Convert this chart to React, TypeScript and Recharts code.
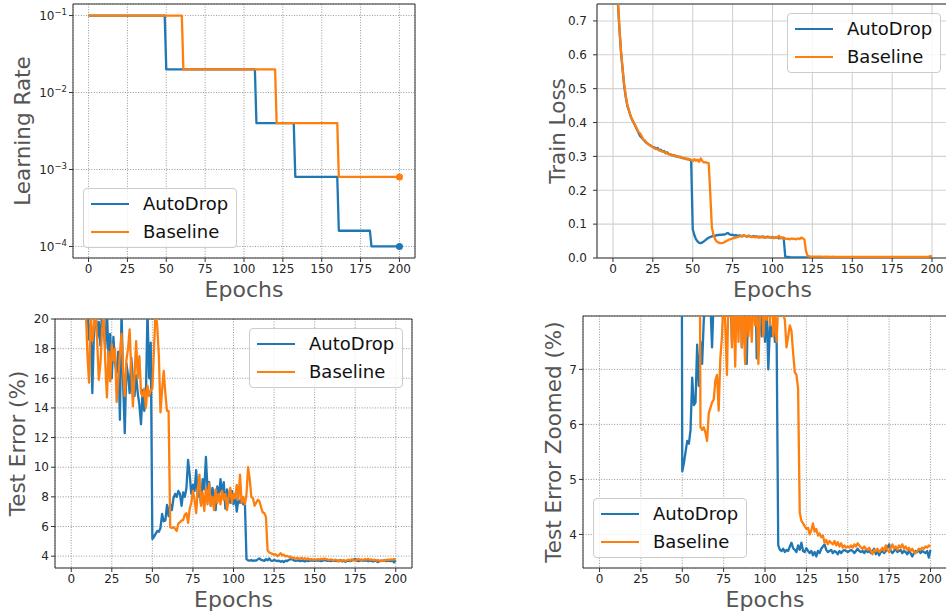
import React from "react";
import { LineChart, Line, XAxis, YAxis, CartesianGrid, Legend, ReferenceArea } from "recharts";

const BLUE = "#1f77b4";
const ORANGE = "#ff7f0e";
const FONT = "'DejaVu Sans', Verdana, sans-serif";
const TICK_COLOR = "#262626";
const TITLE_COLOR = "#555555";
const FRAME = "#333333";

const epochTicks = [0, 25, 50, 75, 100, 125, 150, 175, 200];
const lrTicks = [0.0001, 0.001, 0.01, 0.1];
const lossTicks = [0, 0.1, 0.2, 0.3, 0.4, 0.5, 0.6, 0.7];
const errTicks = [4, 6, 8, 10, 12, 14, 16, 18, 20];
const zoomTicks = [4, 5, 6, 7];

// learning rate at the epochs where the schedule steps, [epoch, lr]
const lrAutoDrop: [number, number][] = [
  [0, 0.1], [49, 0.1], [50, 0.02], [107, 0.02], [108, 0.004], [132, 0.004],
  [133, 0.0008], [160, 0.0008], [161, 0.00016], [181, 0.00016], [182, 0.0001], [200, 0.0001],
];
const lrBaseline: [number, number][] = [
  [0, 0.1], [60, 0.1], [61, 0.02], [120, 0.02], [121, 0.004], [160, 0.004], [161, 0.0008], [200, 0.0008],
];

// train loss, one value per epoch 0..200
const trainLossAutoDrop = [
  2.0, 1.3, 0.95, 0.76, 0.68, 0.61, 0.56, 0.51, 0.475, 0.45,
  0.435, 0.42, 0.408, 0.4, 0.39, 0.38, 0.37, 0.36, 0.355, 0.35,
  0.345, 0.34, 0.337, 0.334, 0.33, 0.328, 0.327, 0.322, 0.325, 0.318,
  0.32, 0.314, 0.316, 0.31, 0.312, 0.307, 0.306, 0.303, 0.304, 0.3,
  0.301, 0.298, 0.299, 0.296, 0.295, 0.294, 0.292, 0.293, 0.29, 0.289,
  0.085, 0.068, 0.056, 0.049, 0.045, 0.044, 0.046, 0.049, 0.053, 0.057,
  0.06, 0.062, 0.064, 0.066, 0.065, 0.068, 0.067, 0.069, 0.068, 0.07,
  0.069, 0.072, 0.074, 0.07, 0.068, 0.069, 0.066, 0.068, 0.065, 0.067,
  0.066, 0.064, 0.067, 0.065, 0.063, 0.066, 0.064, 0.062, 0.065, 0.063,
  0.064, 0.061, 0.063, 0.062, 0.064, 0.06, 0.062, 0.063, 0.061, 0.06,
  0.062, 0.059, 0.061, 0.06, 0.058, 0.061, 0.059, 0.06, 0.004, 0.003,
  0.003, 0.002, 0.002, 0.002, 0.002, 0.002, 0.002, 0.002, 0.002, 0.002,
  0.002, 0.002, 0.002, 0.002, 0.002, 0.002, 0.002, 0.002, 0.002, 0.002,
  0.002, 0.002, 0.002, 0.002, 0.002, 0.002, 0.002, 0.002, 0.002, 0.002,
  0.002, 0.002, 0.002, 0.002, 0.002, 0.002, 0.002, 0.002, 0.002, 0.002,
  0.002, 0.002, 0.002, 0.002, 0.002, 0.002, 0.002, 0.002, 0.002, 0.002,
  0.002, 0.002, 0.002, 0.002, 0.002, 0.002, 0.002, 0.002, 0.002, 0.002,
  0.002, 0.002, 0.002, 0.002, 0.002, 0.002, 0.002, 0.002, 0.002, 0.002,
  0.002, 0.002, 0.002, 0.002, 0.002, 0.002, 0.002, 0.002, 0.002, 0.002,
  0.002, 0.002, 0.002, 0.002, 0.002, 0.002, 0.002, 0.002, 0.002, 0.002,
  0.002,
];
const trainLossBaseline = [
  2.0, 1.32, 0.96, 0.77, 0.685, 0.615, 0.56, 0.515, 0.48, 0.452,
  0.437, 0.42, 0.41, 0.398, 0.392, 0.381, 0.372, 0.368, 0.36, 0.35,
  0.347, 0.342, 0.336, 0.333, 0.331, 0.327, 0.324, 0.323, 0.32, 0.319,
  0.316, 0.315, 0.313, 0.309, 0.31, 0.306, 0.307, 0.304, 0.302, 0.303,
  0.3, 0.299, 0.297, 0.298, 0.295, 0.293, 0.294, 0.291, 0.292, 0.29,
  0.286, 0.292, 0.287, 0.29, 0.284, 0.294, 0.286, 0.282, 0.283, 0.281,
  0.28, 0.19, 0.09, 0.068, 0.056, 0.049, 0.046, 0.044, 0.044, 0.045,
  0.047, 0.05, 0.052, 0.055, 0.056, 0.058, 0.059, 0.06, 0.062, 0.063,
  0.065, 0.064, 0.066, 0.065, 0.063, 0.065, 0.064, 0.062, 0.063, 0.061,
  0.062, 0.063, 0.06, 0.062, 0.061, 0.063, 0.06, 0.061, 0.062, 0.06,
  0.061, 0.059, 0.062, 0.06, 0.066, 0.058, 0.06, 0.057, 0.058, 0.056,
  0.057, 0.055, 0.058, 0.056, 0.057, 0.055, 0.058, 0.056, 0.06, 0.058,
  0.055, 0.02, 0.006, 0.005, 0.004, 0.004, 0.004, 0.004, 0.004, 0.004,
  0.004, 0.004, 0.003, 0.004, 0.003, 0.004, 0.003, 0.003, 0.004, 0.003,
  0.003, 0.003, 0.003, 0.003, 0.003, 0.003, 0.003, 0.003, 0.003, 0.003,
  0.003, 0.003, 0.003, 0.003, 0.003, 0.003, 0.003, 0.003, 0.003, 0.003,
  0.003, 0.003, 0.003, 0.003, 0.003, 0.003, 0.003, 0.003, 0.003, 0.003,
  0.003, 0.003, 0.003, 0.003, 0.003, 0.003, 0.003, 0.003, 0.003, 0.003,
  0.003, 0.003, 0.003, 0.003, 0.003, 0.003, 0.003, 0.003, 0.003, 0.003,
  0.003, 0.003, 0.003, 0.003, 0.003, 0.003, 0.003, 0.003, 0.004, 0.006,
  0.004,
];

// test error (%), one value per epoch 0..200
const testErrAutoDrop = [
  60, 42, 33, 29, 26.5, 24.5, 23, 22.2, 21.5, 21,
  20.6, 18.6, 19.6, 15.0, 19.2, 20.6, 18.7, 19.8, 18.2, 20.6,
  19.4, 18.0, 20.6, 17.4, 19.0, 16.0, 18.8, 17.0, 16.4, 17.8,
  13.2, 20.6, 15.6, 12.3, 17.0, 16.2, 15.0, 17.4, 16.0, 14.8,
  16.2, 15.0, 14.2, 12.9, 15.2, 13.8, 14.6, 20.6, 16.0, 18.4,
  5.15, 5.3, 5.5, 5.7, 5.65, 5.9, 6.85, 6.35, 6.4, 7.45,
  6.7, 7.5, 7.1, 7.9, 8.2, 8.0, 8.4, 8.2, 7.4, 8.3,
  8.0, 8.6, 10.5, 9.5, 8.2, 8.8, 8.4, 9.8, 8.0, 8.6,
  7.5, 9.2, 8.5, 10.7, 8.5, 9.0, 7.4, 8.6, 8.2, 7.1,
  8.7, 8.0, 9.2, 8.2, 9.0, 7.2, 8.5, 8.0, 7.6, 8.4,
  7.5, 8.2, 7.0, 7.8, 7.6, 7.9, 7.5, 7.7, 3.8, 3.72,
  3.7, 3.74, 3.68, 3.72, 3.7, 3.78, 3.85, 3.75, 3.72, 3.68,
  3.8, 3.72, 3.85, 3.7, 3.68, 3.75, 3.7, 3.66, 3.7, 3.62,
  3.68, 3.6, 3.7, 3.66, 3.74, 3.78, 3.82, 3.72, 3.68, 3.7,
  3.72, 3.66, 3.7, 3.68, 3.64, 3.7, 3.66, 3.7, 3.72, 3.7,
  3.68, 3.7, 3.72, 3.7, 3.66, 3.7, 3.74, 3.7, 3.68, 3.7,
  3.66, 3.72, 3.68, 3.7, 3.66, 3.7, 3.74, 3.64, 3.7, 3.62,
  3.68, 3.7, 3.66, 3.7, 3.76, 3.82, 3.7, 3.66, 3.7, 3.74,
  3.68, 3.7, 3.72, 3.66, 3.7, 3.68, 3.64, 3.7, 3.66, 3.6,
  3.66, 3.7, 3.68, 3.72, 3.66, 3.7, 3.68, 3.66, 3.7, 3.58,
  3.72,
];
const testErrBaseline = [
  60, 42, 33, 29, 26.5, 24.5, 23, 22.2, 21.4, 20.6,
  17.5, 15.7, 20.6, 18.5, 19.5, 20.6, 18.5, 15.9, 17.0, 19.2,
  20.6, 17.0, 14.7, 17.8, 15.8, 18.3, 17.2, 18.0, 14.4, 16.0,
  17.6, 19.0, 16.5, 14.8, 17.2, 18.0, 19.3, 16.5, 14.1, 16.2,
  18.5, 16.0, 17.5, 15.0, 14.8, 15.3, 14.0, 15.5, 14.8, 15.2,
  15.3, 18.0, 20.6, 19.5, 17.5, 13.7, 15.2, 16.5, 15.0, 13.8,
  13.8, 5.95, 5.9, 5.95, 5.85, 5.7, 6.2, 6.3, 6.4, 6.45,
  6.8, 6.9, 6.25, 7.2, 7.6, 8.4, 7.8, 6.9, 8.5, 9.5,
  7.4, 8.3, 7.05, 8.6, 7.5, 8.9, 7.4, 8.0, 7.1, 8.5,
  7.6, 8.2, 7.5, 8.4, 7.8, 8.2, 7.1, 8.0, 8.6, 7.6,
  8.2, 7.9, 8.8, 7.8, 9.5, 7.6, 8.0, 7.5, 8.2, 10.0,
  9.2, 8.0, 7.9, 7.4, 7.6, 7.8, 7.7, 7.3, 6.95, 6.9,
  6.65, 4.4, 4.25, 4.2, 4.15, 4.1, 4.12, 4.0, 4.08, 4.2,
  4.05, 4.1, 3.98, 4.02, 3.95, 3.98, 3.85, 3.9, 3.82, 3.88,
  3.85, 3.82, 3.88, 3.8, 3.86, 3.78, 3.84, 3.76, 3.8, 3.76,
  3.78, 3.76, 3.8, 3.76, 3.82, 3.78, 3.84, 3.8, 3.76, 3.74,
  3.78, 3.74, 3.72, 3.76, 3.7, 3.64, 3.72, 3.7, 3.74, 3.68,
  3.72, 3.76, 3.7, 3.8, 3.72, 3.68, 3.76, 3.82, 3.74, 3.78,
  3.72, 3.8, 3.76, 3.82, 3.74, 3.78, 3.72, 3.76, 3.7, 3.74,
  3.68, 3.66, 3.7, 3.74, 3.72, 3.76, 3.74, 3.78, 3.76, 3.8,
  3.78,
];

type Point = { epoch: number; value: number };
const perEpoch = (values: number[]): Point[] => values.map((value, epoch) => ({ epoch, value }));
const fromPairs = (pairs: [number, number][]): Point[] => pairs.map(([epoch, value]) => ({ epoch, value }));

interface Series {
  name: string;
  color: string;
  data: Point[];
  endDot?: boolean;
}

function renderLegend(props: any) {
  const items = props.payload || [];
  return (
    <div
      style={{
        width: 154,
        height: 60,
        boxSizing: "border-box",
        border: "1px solid #cccccc",
        borderRadius: 4,
        background: "rgba(255,255,255,0.8)",
        position: "relative",
        fontFamily: FONT,
        fontSize: 18,
        color: "#111",
      }}
    >
      {items.map((it: any, i: number) => (
        <div
          key={String(it.value)}
          style={{ position: "absolute", left: 7, top: 15 + 28 * i - 12, height: 24, display: "flex", alignItems: "center" }}
        >
          <span style={{ display: "inline-block", width: 38, height: 2.5, background: it.color }} />
          <span style={{ marginLeft: 14, lineHeight: "24px", whiteSpace: "nowrap" }}>{it.value}</span>
        </div>
      ))}
    </div>
  );
}

function LogTick(props: any) {
  const { x, y, payload } = props;
  const exp = Math.round(Math.log10(payload.value));
  return (
    <text x={x} y={y} textAnchor="end" dy="0.36em" fontFamily={FONT} fontSize={12} fill={TICK_COLOR}>
      10
      <tspan dy={-5} fontSize={8.5}>{"\u2212" + Math.abs(exp)}</tspan>
    </text>
  );
}

interface PanelProps {
  left: number;
  top: number;
  width: number;
  height: number;
  margin: { top: number; right: number; bottom: number; left: number };
  yWidth: number;
  xHeight: number;
  yDomain: [number, number];
  yTicks: number[];
  logY?: boolean;
  yFormat?: (v: number) => string;
  yTickMargin: number;
  yTitle: string;
  yTitleX: number;
  dotted: boolean;
  legendAt: { x: number; y: number };
  series: Series[];
}

function Panel(p: PanelProps) {
  const plotLeft = p.margin.left + p.yWidth;
  const plotRight = p.width - p.margin.right;
  const plotTop = p.margin.top;
  const plotBottom = p.height - p.margin.bottom - p.xHeight;
  const cx = (plotLeft + plotRight) / 2;
  const cy = (plotTop + plotBottom) / 2;

  const xTitle = () => (
    <text x={cx} y={plotBottom + 31} textAnchor="middle" dominantBaseline="central" fontFamily={FONT} fontSize={22} fill={TITLE_COLOR}>
      Epochs
    </text>
  );
  const yTitle = () => (
    <text
      x={p.yTitleX}
      y={cy}
      transform={`rotate(-90, ${p.yTitleX}, ${cy})`}
      textAnchor="middle"
      dominantBaseline="central"
      fontFamily={FONT}
      fontSize={21.5}
      fill={TITLE_COLOR}
    >
      {p.yTitle}
    </text>
  );

  return (
    <div style={{ position: "absolute", left: p.left, top: p.top }}>
      <LineChart width={p.width} height={p.height} margin={p.margin}>
        <CartesianGrid
          stroke={p.dotted ? "#8a8a8a" : "#d2d2d2"}
          strokeDasharray={p.dotted ? "1 1.6" : undefined}
          strokeWidth={p.dotted ? 0.9 : 1.1}
        />
        <XAxis
          type="number"
          dataKey="epoch"
          domain={[-10, 210]}
          ticks={epochTicks}
          interval={0}
          allowDataOverflow
          height={p.xHeight}
          axisLine={false}
          tickLine={{ stroke: FRAME }}
          tickSize={4}
          tickMargin={2}
          tick={{ fill: TICK_COLOR, fontSize: 12, fontFamily: FONT }}
          label={xTitle}
        />
        <YAxis
          type="number"
          scale={p.logY ? "log" : "linear"}
          domain={p.yDomain}
          ticks={p.yTicks}
          interval={0}
          allowDataOverflow
          width={p.yWidth}
          axisLine={false}
          tickLine={{ stroke: FRAME }}
          tickSize={4}
          tickMargin={p.yTickMargin}
          tickFormatter={p.yFormat}
          tick={p.logY ? LogTick : { fill: TICK_COLOR, fontSize: 12, fontFamily: FONT }}
          label={yTitle}
        />
        <ReferenceArea
          x1={-10}
          x2={210}
          y1={p.yDomain[0]}
          y2={p.yDomain[1]}
          fill="none"
          fillOpacity={0}
          stroke={FRAME}
          strokeWidth={1}
          ifOverflow="visible"
        />
        {p.series.map((s) => (
          <Line
            key={s.name}
            data={s.data}
            dataKey="value"
            name={s.name}
            type="linear"
            stroke={s.color}
            strokeWidth={2.3}
            strokeLinejoin="round"
            isAnimationActive={false}
            activeDot={false}
            dot={
              s.endDot
                ? (d: any) =>
                    d.index === s.data.length - 1 ? (
                      <circle key={`end-${s.name}`} cx={d.cx} cy={d.cy} r={3.5} fill={s.color} />
                    ) : (
                      <g key={`d-${s.name}-${d.index}`} />
                    )
                : false
            }
          />
        ))}
        <Legend
          layout="horizontal"
          verticalAlign="middle"
          align="center"
          width={154}
          height={60}
          wrapperStyle={{ left: p.legendAt.x, top: p.legendAt.y, width: 154, height: 60 }}
          content={renderLegend}
        />
      </LineChart>
    </div>
  );
}

export default function App() {
  const lrSeries: Series[] = [
    { name: "AutoDrop", color: BLUE, data: fromPairs(lrAutoDrop), endDot: true },
    { name: "Baseline", color: ORANGE, data: fromPairs(lrBaseline), endDot: true },
  ];
  const lossSeries: Series[] = [
    { name: "AutoDrop", color: BLUE, data: perEpoch(trainLossAutoDrop) },
    { name: "Baseline", color: ORANGE, data: perEpoch(trainLossBaseline) },
  ];
  const errSeries: Series[] = [
    { name: "AutoDrop", color: BLUE, data: perEpoch(testErrAutoDrop) },
    { name: "Baseline", color: ORANGE, data: perEpoch(testErrBaseline) },
  ];

  return (
    <div style={{ position: "absolute", left: 0, top: 0, width: 946, height: 611, overflow: "hidden", background: "#fff" }}>
      <Panel
        left={0}
        top={0}
        width={430}
        height={305}
        margin={{ top: 4, right: 15, bottom: 0, left: 0 }}
        yWidth={73}
        xHeight={47}
        yDomain={[7.08e-5, 0.1413]}
        yTicks={lrTicks}
        logY
        yTickMargin={2}
        yTitle="Learning Rate"
        yTitleX={22}
        dotted
        legendAt={{ x: 83, y: 188 }}
        series={lrSeries}
      />
      <Panel
        left={530}
        top={0}
        width={420}
        height={305}
        margin={{ top: 4, right: 2, bottom: 0, left: 0 }}
        yWidth={67}
        xHeight={47}
        yDomain={[0, 0.75]}
        yTicks={lossTicks}
        yFormat={(v) => v.toFixed(1)}
        yTickMargin={6}
        yTitle="Train Loss"
        yTitleX={27}
        dotted={false}
        legendAt={{ x: 257, y: 13 }}
        series={lossSeries}
      />
      <Panel
        left={0}
        top={305}
        width={430}
        height={306}
        margin={{ top: 14, right: 18, bottom: 0, left: 0 }}
        yWidth={55}
        xHeight={43}
        yDomain={[3.2, 20]}
        yTicks={errTicks}
        yFormat={(v) => String(v)}
        yTickMargin={2}
        yTitle="Test Error (%)"
        yTitleX={17}
        dotted
        legendAt={{ x: 249, y: 23 }}
        series={errSeries}
      />
      <Panel
        left={530}
        top={305}
        width={420}
        height={306}
        margin={{ top: 11, right: 3, bottom: 0, left: 0 }}
        yWidth={53}
        xHeight={43}
        yDomain={[3.39, 7.97]}
        yTicks={zoomTicks}
        yFormat={(v) => String(v)}
        yTickMargin={2}
        yTitle="Test Error Zoomed (%)"
        yTitleX={23}
        dotted
        legendAt={{ x: 63, y: 193 }}
        series={errSeries}
      />
    </div>
  );
}
